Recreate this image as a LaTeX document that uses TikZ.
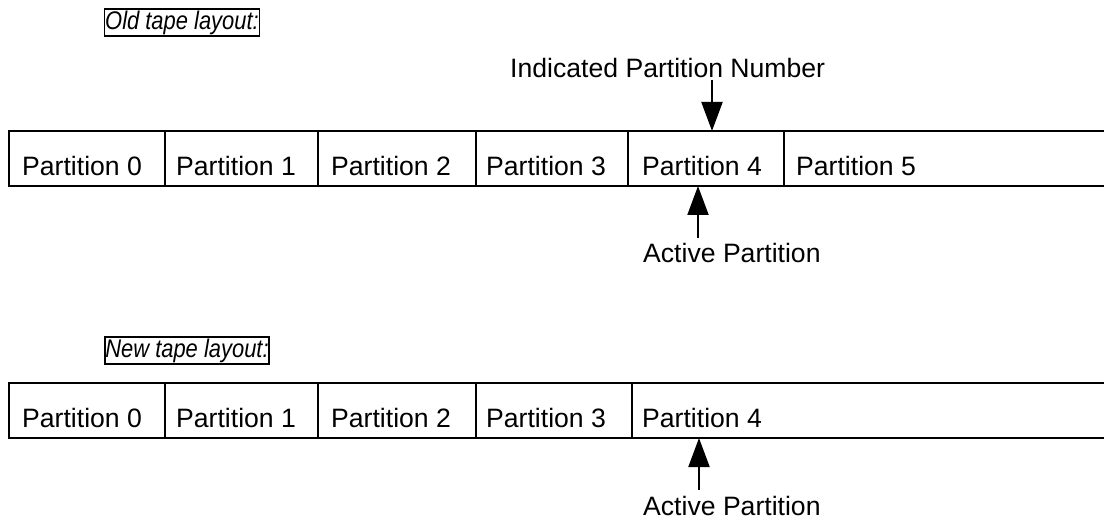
\documentclass[tikz,border=0pt]{standalone}
\usepackage{fontspec}
\setmainfont{Liberation Sans}
\newfontfamily\narrowit[FakeStretch=0.86]{Liberation Sans}
\usetikzlibrary{arrows.meta}
\tikzset{
  line/.style={line width=2pt, black},
  lbl/.style={inner sep=0pt, anchor=base west, font=\fontsize{26.6}{30}\selectfont},
  title/.style={draw, line width=1.6pt, inner xsep=0.5pt, inner ysep=1.5pt, font=\narrowit\itshape\fontsize{25.5}{28}\selectfont},
  ptr/.style={line width=2pt, -{Triangle[width=21pt,length=29pt]}}
}
\begin{document}
\begin{tikzpicture}[x=1pt,y=-1pt]
\useasboundingbox (0,0) rectangle (1104,521);
% ---- old tape ----
\node[title] (oldt) at (182,22.5) {Old tape layout:};
\draw[line] (1104,131) -- (9,131) -- (9,186) -- (1104,186);
\foreach \x in {165,318,476,628,784} \draw[line] (\x,131) -- (\x,186);
\node[lbl] (o0) at (22,176) {Partition 0};
\node[lbl] (o1) at (176,176) {Partition 1};
\node[lbl] (o2) at (331,176) {Partition 2};
\node[lbl] (o3) at (486,176) {Partition 3};
\node[lbl] (o4) at (642,176) {Partition 4};
\node[lbl] (o5) at (796,176) {Partition 5};
\node[lbl] (ipn) at (510,78) {Indicated Partition Number};
\coordinate (ipntop) at (712,80);
\coordinate (ipntip) at (712,131);
\draw[ptr] (ipntop) -- (ipntip);
\node[lbl] (act1) at (643,263) {Active Partition};
\coordinate (act1top) at (698,238);
\coordinate (act1tip) at (698,186);
\draw[ptr] (act1top) -- (act1tip);
% ---- new tape ----
\node[title] (newt) at (187,350.5) {New tape layout:};
\draw[line] (1104,383) -- (9,383) -- (9,438) -- (1104,438);
\foreach \x in {165,318,476,632} \draw[line] (\x,383) -- (\x,438);
\node[lbl] (n0) at (22,428) {Partition 0};
\node[lbl] (n1) at (176,428) {Partition 1};
\node[lbl] (n2) at (331,428) {Partition 2};
\node[lbl] (n3) at (486,428) {Partition 3};
\node[lbl] (n4) at (642,428) {Partition 4};
\node[lbl] (act2) at (643,515) {Active Partition};
\coordinate (act2top) at (699,490);
\coordinate (act2tip) at (699,438);
\draw[ptr] (act2top) -- (act2tip);
\end{tikzpicture}
\end{document}
